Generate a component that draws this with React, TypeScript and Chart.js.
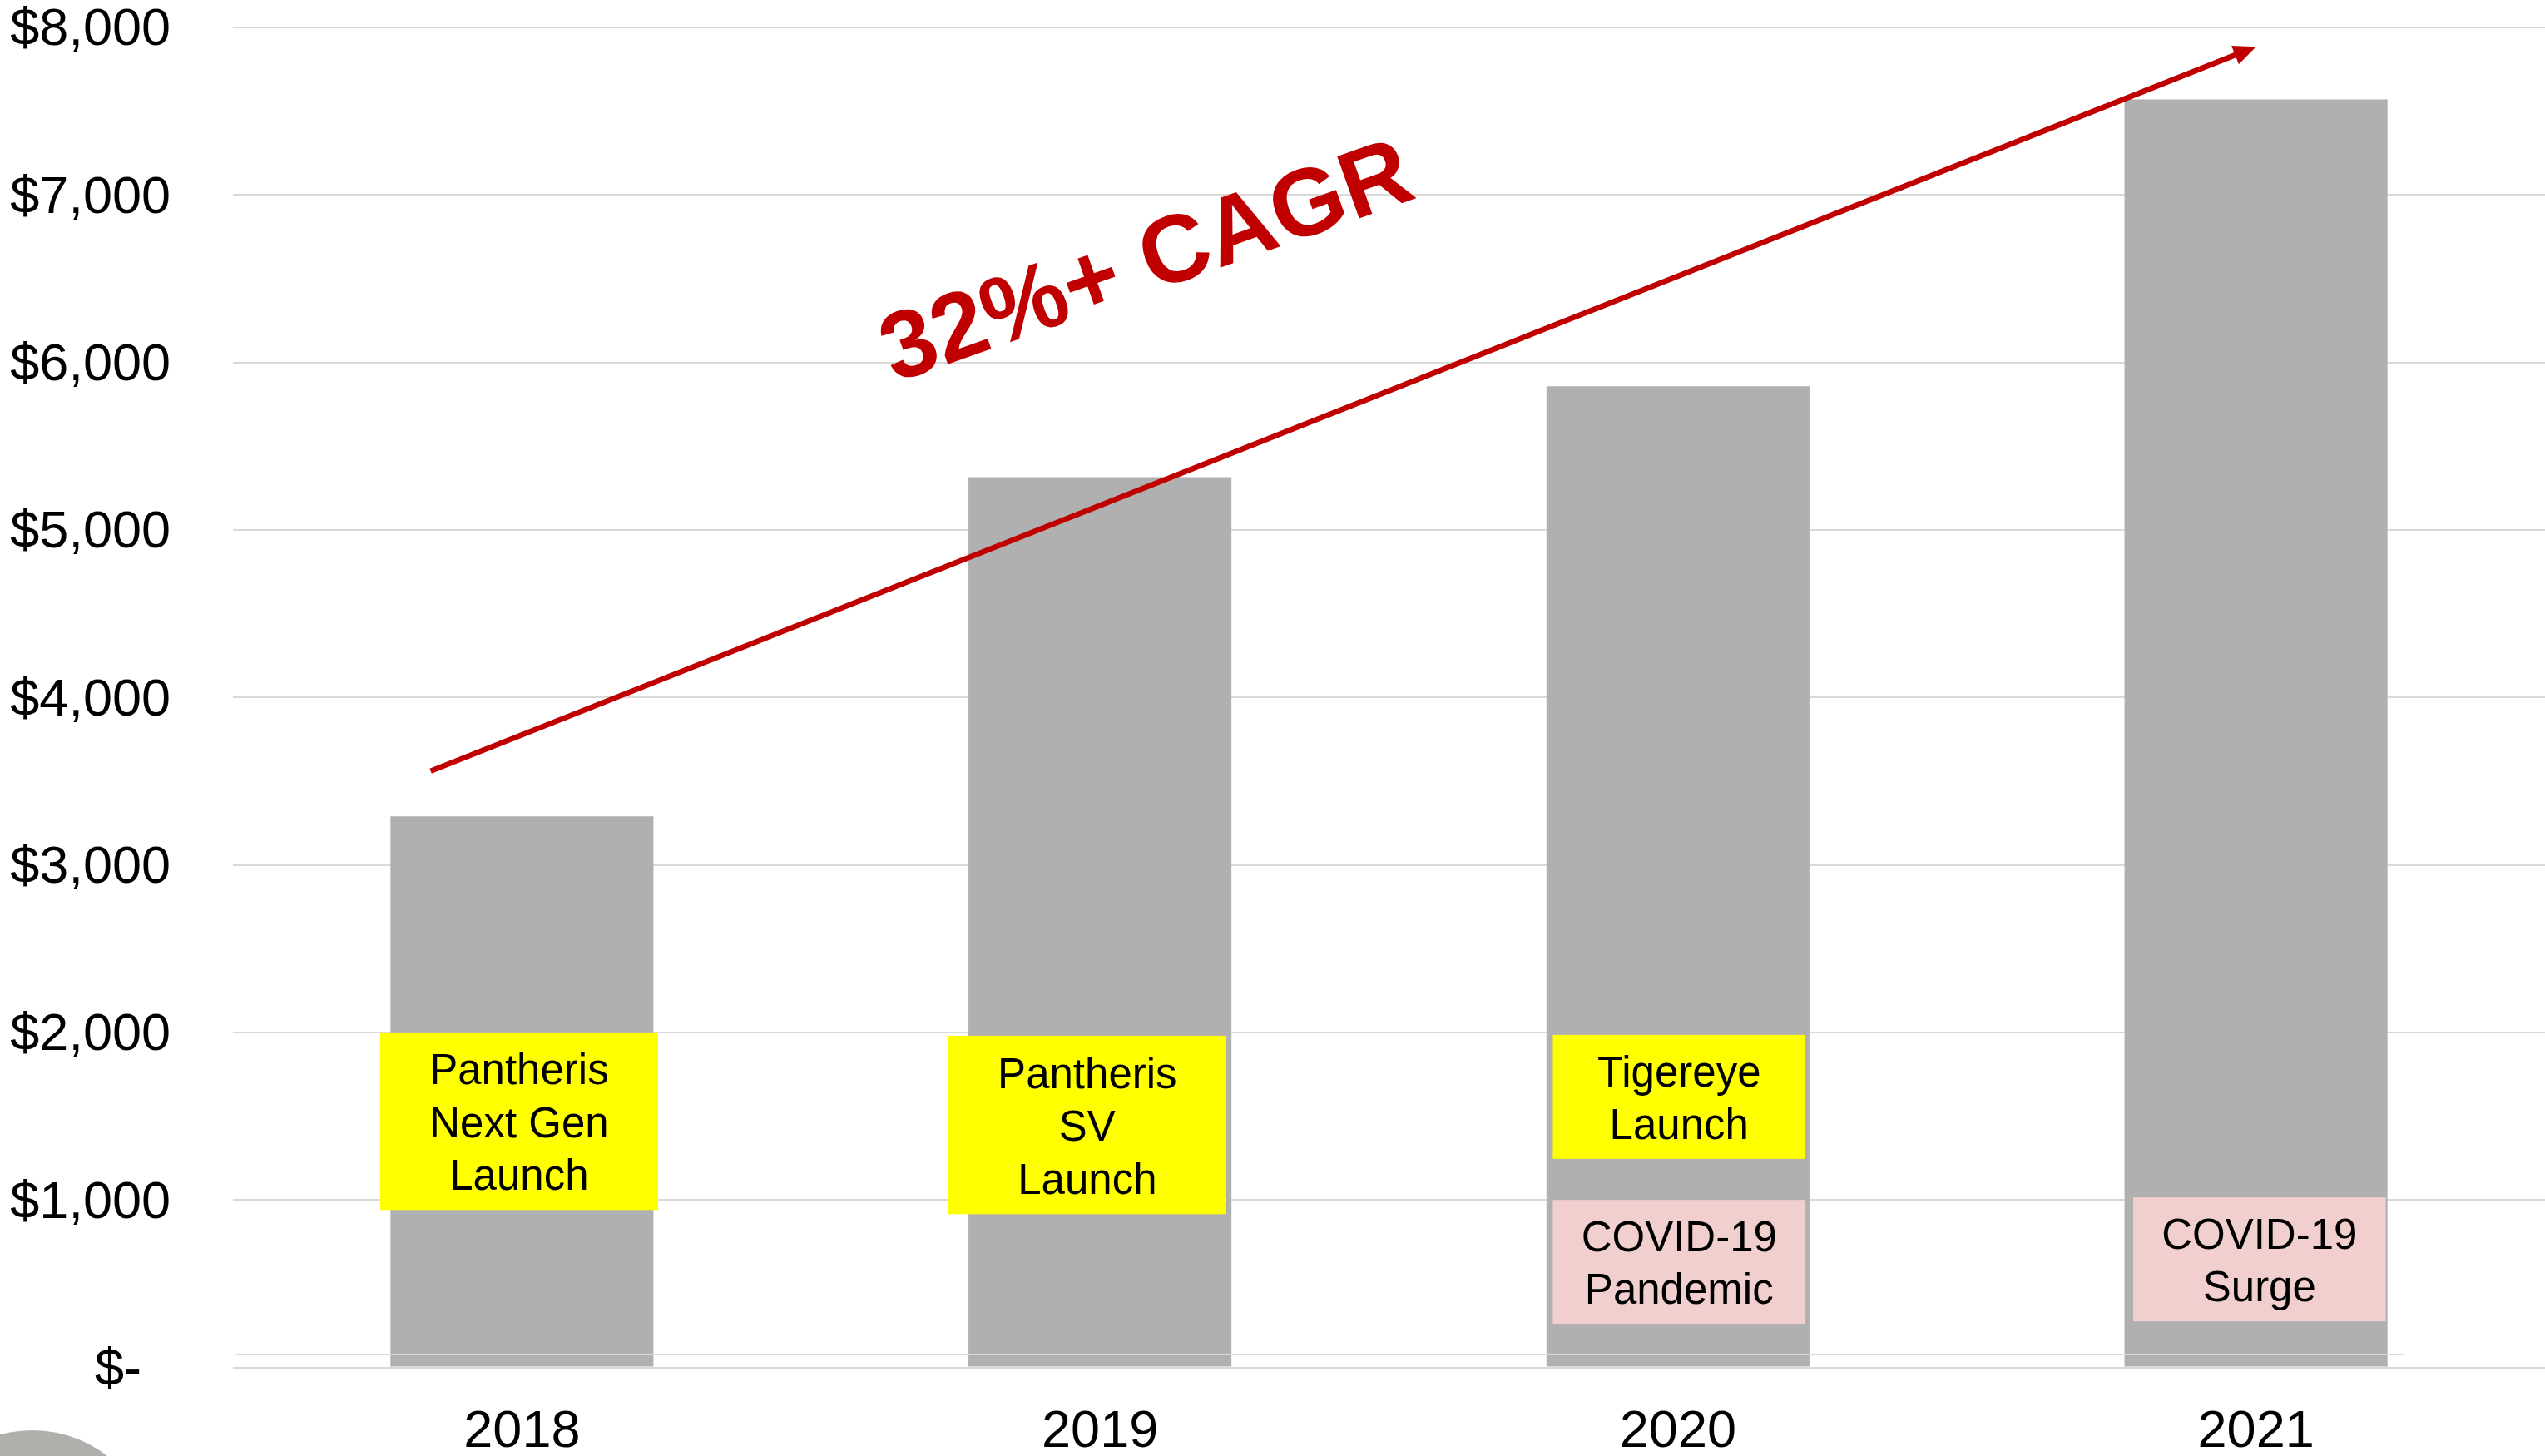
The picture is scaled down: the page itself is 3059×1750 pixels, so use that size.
import React, { useEffect, useRef } from 'react';
import { Chart, registerables } from 'chart.js';

Chart.register(...registerables);

// ---------- data ----------
const years = ['2018', '2019', '2020', '2021'];
const revenue = [3290, 5315, 5858, 7570];
const yTickValues = [0, 1000, 2000, 3000, 4000, 5000, 6000, 7000, 8000];
const yTickLabels = ['$-  ', '$1,000', '$2,000', '$3,000', '$4,000', '$5,000', '$6,000', '$7,000', '$8,000'];

const eventYear = ['2018', '2019', '2020', '2020', '2021'];
const eventText = [
  ['Pantheris', 'Next Gen', 'Launch'],
  ['Pantheris', 'SV', 'Launch'],
  ['Tigereye', 'Launch'],
  ['COVID-19', 'Pandemic'],
  ['COVID-19', 'Surge'],
];
const eventKind = ['launch', 'launch', 'launch', 'covid', 'covid'];
const eventValueTop = [2000, 1980, 1985, 1000, 1015];
const eventValueBottom = [940, 915, 1245, 260, 275];

const trendLabel = '32%+ CAGR';
const trendStartValue = 3560;
const trendEndValue = 7885;

// ---------- layout / style ----------
const FONT = '"Liberation Sans", Arial, Helvetica, sans-serif';
const BAR_COLOR = '#afb0af';
const GRID_COLOR = '#d9d9d9';
const RED = '#c00000';
const BOX_LAYOUT = [
  { dx: -0.005, w: 0.481 },
  { dx: -0.022, w: 0.481 },
  { dx: 0.002, w: 0.437 },
  { dx: 0.002, w: 0.437 },
  { dx: 0.006, w: 0.437 },
];
const ARROW = { startIdx: 0, startDx: -0.158, endIdx: 3, endDx: 0.0 };
const LABEL_POS = { idx: 1, dx: 0.078, value: 6623, angleDeg: -19.5 };

const overlayPlugin = {
  id: 'overlay',
  afterDatasetsDraw(chart: any) {
    const { ctx, chartArea } = chart;
    const x = chart.scales.x;
    const y = chart.scales.y;
    const catW = x.getPixelForValue(1) - x.getPixelForValue(0);
    ctx.save();

    // faint secondary baseline line
    const y0 = y.getPixelForValue(0);
    const lastRight = x.getPixelForValue(years.length - 1) + (0.455 * catW) / 2 + 19;
    ctx.strokeStyle = GRID_COLOR;
    ctx.lineWidth = 2;
    ctx.beginPath();
    ctx.moveTo(chartArea.left + 4, y0 - 15.5);
    ctx.lineTo(lastRight, y0 - 15.5);
    ctx.stroke();

    // event boxes
    eventYear.forEach((yr, i) => {
      const idx = years.indexOf(yr);
      const cx = x.getPixelForValue(idx) + BOX_LAYOUT[i].dx * catW;
      const w = BOX_LAYOUT[i].w * catW;
      const top = y.getPixelForValue(eventValueTop[i]);
      const bot = y.getPixelForValue(eventValueBottom[i]);
      ctx.fillStyle = eventKind[i] === 'launch' ? '#ffff00' : '#f2cfcf';
      ctx.fillRect(cx - w / 2, top, w, bot - top);
      ctx.fillStyle = '#000000';
      ctx.font = `51px ${FONT}`;
      ctx.textAlign = 'center';
      ctx.textBaseline = 'middle';
      const lines = eventText[i];
      const lh = 63.5;
      const mid = (top + bot) / 2 + 5;
      lines.forEach((t, k) => {
        ctx.fillText(t, cx, mid + (k - (lines.length - 1) / 2) * lh);
      });
    });

    // trend arrow
    const sx = x.getPixelForValue(ARROW.startIdx) + ARROW.startDx * catW;
    const sy = y.getPixelForValue(trendStartValue);
    const ex = x.getPixelForValue(ARROW.endIdx) + ARROW.endDx * catW;
    const ey = y.getPixelForValue(trendEndValue);
    const ang = Math.atan2(ey - sy, ex - sx);
    const headLen = 27;
    const headW = 24;
    const bx = ex - headLen * Math.cos(ang);
    const by = ey - headLen * Math.sin(ang);
    ctx.strokeStyle = RED;
    ctx.fillStyle = RED;
    ctx.lineWidth = 6.5;
    ctx.lineCap = 'butt';
    ctx.beginPath();
    ctx.moveTo(sx, sy);
    ctx.lineTo(bx + 2 * Math.cos(ang), by + 2 * Math.sin(ang));
    ctx.stroke();
    ctx.beginPath();
    ctx.moveTo(ex, ey);
    ctx.lineTo(bx + (headW / 2) * Math.sin(ang), by - (headW / 2) * Math.cos(ang));
    ctx.lineTo(bx - (headW / 2) * Math.sin(ang), by + (headW / 2) * Math.cos(ang));
    ctx.closePath();
    ctx.fill();

    // CAGR label
    const lx = x.getPixelForValue(LABEL_POS.idx) + LABEL_POS.dx * catW;
    const ly = y.getPixelForValue(LABEL_POS.value);
    ctx.translate(lx, ly);
    ctx.rotate((LABEL_POS.angleDeg * Math.PI) / 180);
    ctx.font = `bold 115px ${FONT}`;
    ctx.textAlign = 'center';
    ctx.textBaseline = 'alphabetic';
    ctx.fillStyle = RED;
    ctx.fillText(trendLabel, 0, 41);
    ctx.restore();
  },
  afterDraw(chart: any) {
    const { ctx } = chart;
    ctx.save();
    ctx.fillStyle = '#b0afab';
    ctx.beginPath();
    ctx.arc(39, 1865, 146, 0, Math.PI * 2);
    ctx.fill();
    ctx.restore();
  },
};

export default function App() {
  const canvasRef = useRef<HTMLCanvasElement | null>(null);

  useEffect(() => {
    document.body.style.margin = '0';
    const canvas = canvasRef.current;
    if (!canvas) return;
    Chart.defaults.font.family = FONT;

    const chart = new Chart(canvas, {
      type: 'bar',
      data: {
        labels: years,
        datasets: [
          {
            data: revenue,
            backgroundColor: BAR_COLOR,
            borderWidth: 0,
            barPercentage: 0.455,
            categoryPercentage: 1.0,
          },
        ],
      },
      options: {
        animation: false,
        responsive: false,
        devicePixelRatio: 1,
        layout: { padding: { top: 33, right: 0, bottom: 0, left: 0 } },
        plugins: {
          legend: { display: false },
          tooltip: { enabled: false },
        },
        scales: {
          x: {
            type: 'category',
            grid: { display: false, drawTicks: false },
            border: { display: false },
            ticks: {
              color: '#000000',
              font: { size: 63, family: FONT, lineHeight: 1 },
              padding: 47,
              maxRotation: 0,
              autoSkip: false,
            },
            afterFit: (s: any) => {
              s.height = 106.5;
            },
          },
          y: {
            min: 0,
            max: 8000,
            afterBuildTicks: (s: any) => {
              s.ticks = yTickValues.map((v) => ({ value: v }));
            },
            grid: {
              color: GRID_COLOR,
              lineWidth: 2,
              drawTicks: true,
              tickLength: 75,
              tickColor: 'rgba(0,0,0,0)',
            },
            border: { display: false },
            ticks: {
              color: '#000000',
              font: { size: 63, family: FONT, lineHeight: 1 },
              padding: 0,
              labelOffset: 4,
              callback: (v: any) => {
                const i = yTickValues.indexOf(Number(v));
                return i >= 0 ? yTickLabels[i] : '';
              },
            },
            afterFit: (s: any) => {
              s.width = 280;
            },
          },
        },
      },
      plugins: [overlayPlugin],
    });

    return () => {
      chart.destroy();
    };
  }, []);

  return (
    <div style={{ width: 3059, height: 1750, overflow: 'hidden' }}>
      <canvas ref={canvasRef} width={3059} height={1750} style={{ display: 'block' }} />
    </div>
  );
}
